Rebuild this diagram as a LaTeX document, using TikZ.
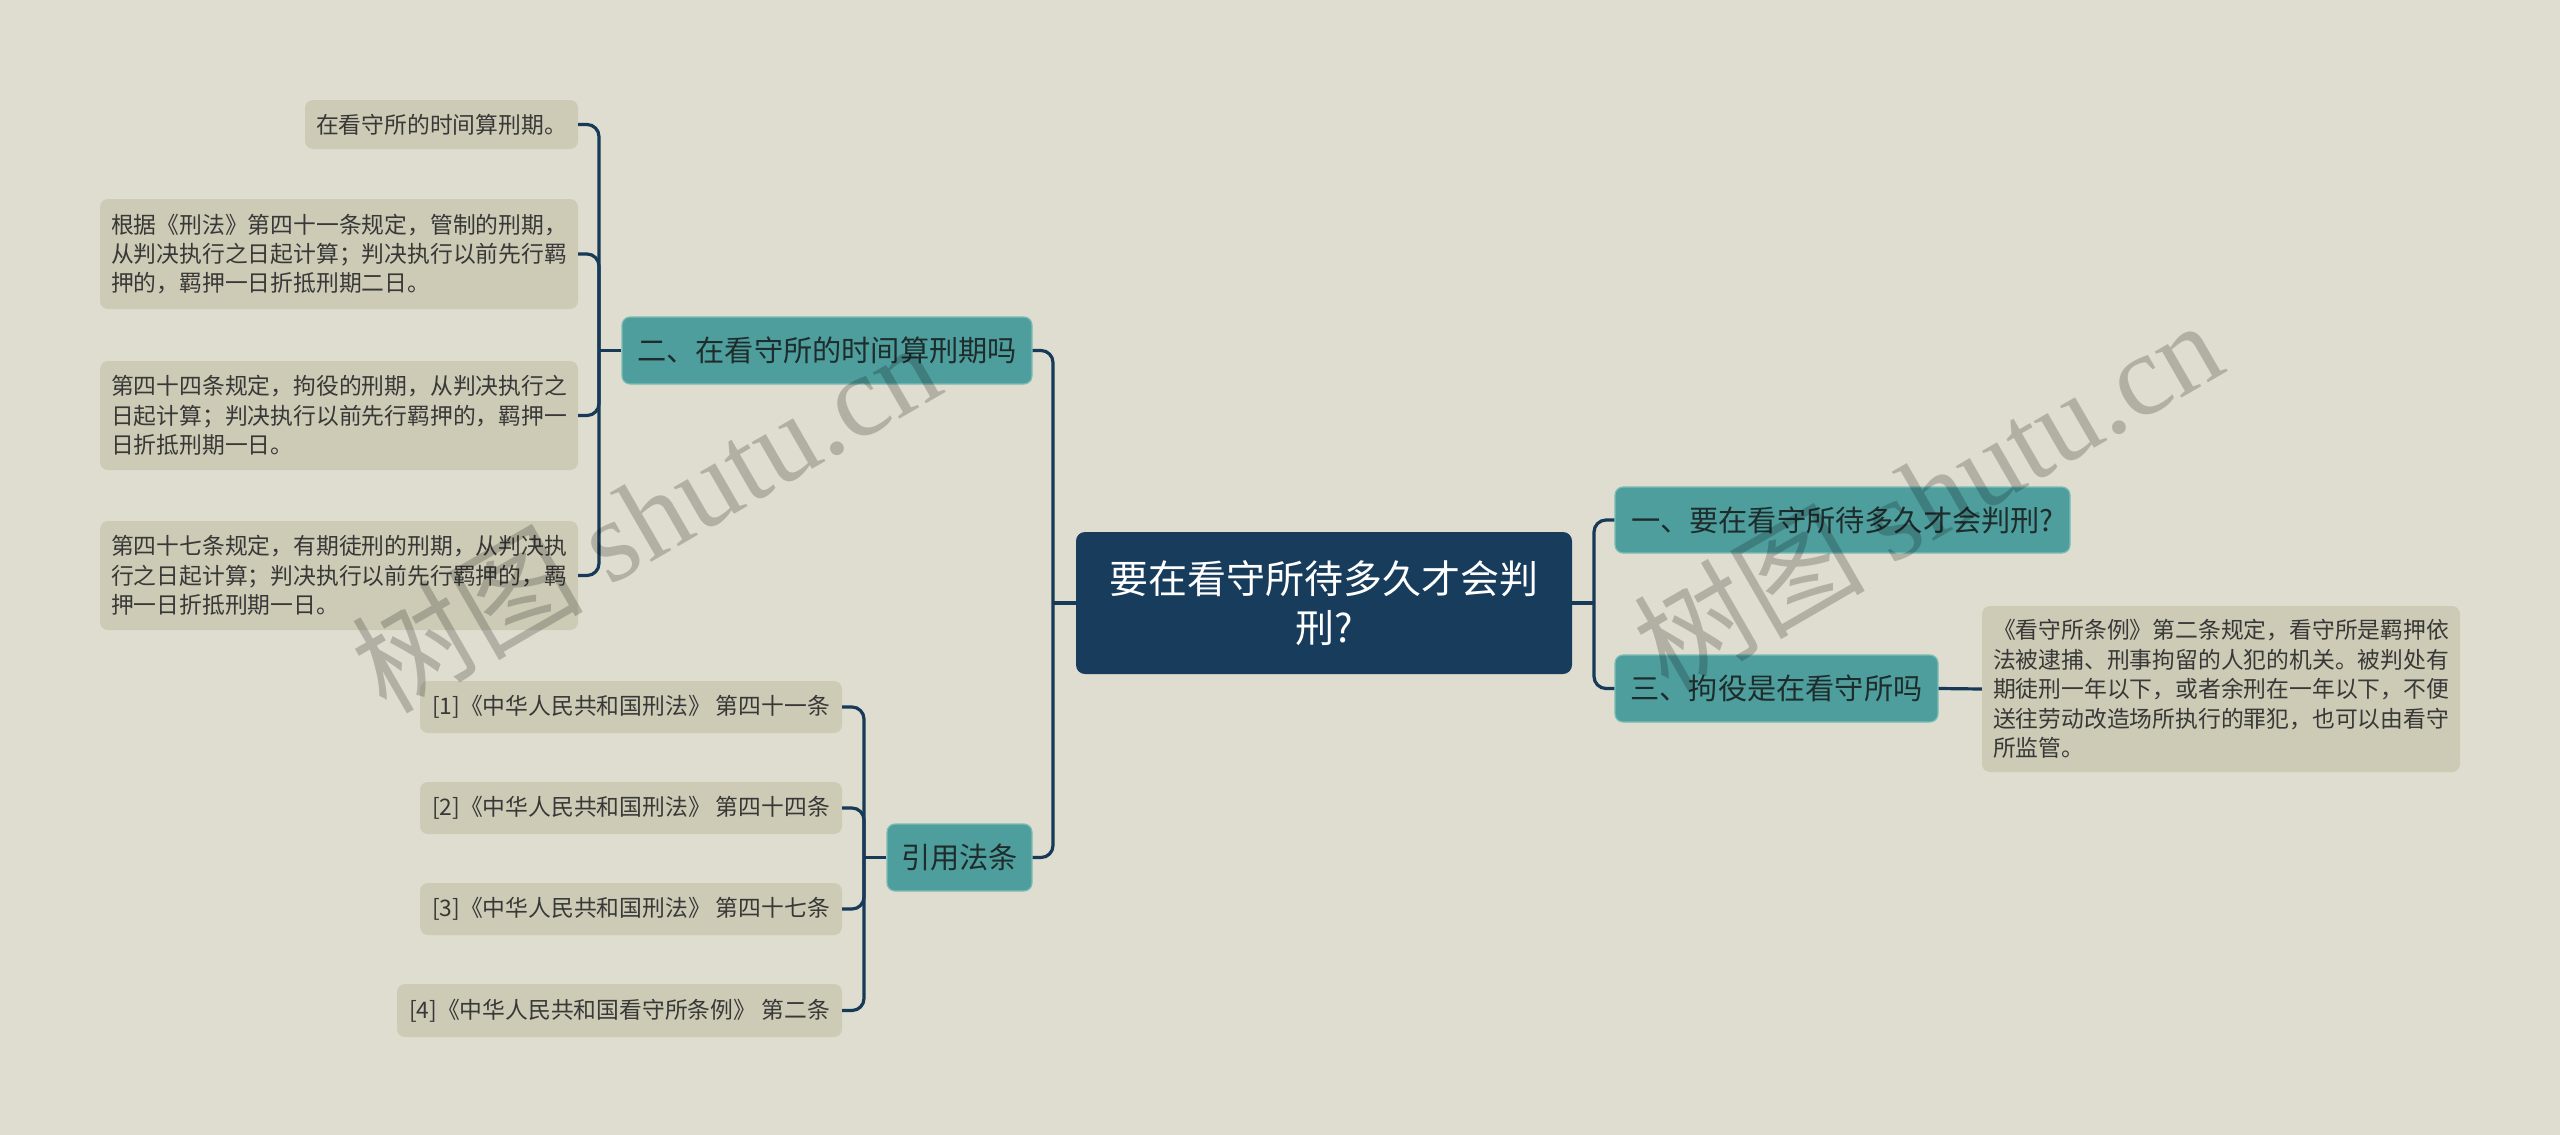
\documentclass[tikz,border=0pt]{standalone}
\usepackage{fontspec}
\setmainfont{Noto Sans CJK SC}
\newfontfamily\wmcjk{Noto Sans CJK SC}
\newfontfamily\wmlat{Liberation Serif}
\definecolor{bgc}{HTML}{DFDDCF}
\definecolor{leafc}{HTML}{CDCBB5}
\definecolor{tealc}{HTML}{4F9E9E}
\definecolor{tealb}{HTML}{7DBDB4}
\definecolor{rootc}{HTML}{183C5C}
\definecolor{linec}{HTML}{173A58}
\definecolor{leaftext}{HTML}{383838}
\definecolor{tealtext}{HTML}{1E2C2C}
\begin{document}
\begin{tikzpicture}[x=1pt,y=-1pt,
  leaf/.style={fill=leafc, rounded corners=8, inner sep=0pt, align=left,
    text=leaftext, font=\fontsize{22.8}{29.4}\selectfont},
  topic/.style={fill=tealc, draw=tealb, line width=1.2pt, rounded corners=8, inner sep=0pt,
    text=tealtext, font=\fontsize{29.2}{36}\selectfont},
  rootbox/.style={fill=rootc, rounded corners=9, inner sep=0pt, align=center,
    text=white, font=\fontsize{39}{49}\selectfont},
  conn/.style={draw=linec, line width=3.2pt, rounded corners=12},
  wm/.style={text=black, text opacity=0.2, rotate=30, inner sep=0pt}
]
\useasboundingbox (0,0) rectangle (2560,1135);
\fill[bgc] (0,0) rectangle (2560,1135);

% root
\node[rootbox, minimum width=496, minimum height=142] (root) at (1324,603)
  {要在看守所待多久才会判\\刑?};

% topics
\node[topic, minimum width=410, minimum height=67] (t2) at (827,350.5) {二、在看守所的时间算刑期吗};
\node[topic, minimum width=145, minimum height=67] (tref) at (959.5,857.5) {引用法条};
\node[topic, minimum width=455, minimum height=66] (t1) at (1842.5,520) {一、要在看守所待多久才会判刑?};
\node[topic, minimum width=323, minimum height=67] (t3) at (1776.5,688.5) {三、拘役是在看守所吗};

% leaves of t2
\node[leaf, minimum width=273, minimum height=49] (l1) at (441.5,124.5) {在看守所的时间算刑期。};
\node[leaf, minimum width=478, minimum height=110] (l2) at (339,254)
  {根据《刑法》第四十一条规定，管制的刑期，\\从判决执行之日起计算；判决执行以前先行羁\\押的，羁押一日折抵刑期二日。};
\node[leaf, minimum width=478, minimum height=109] (l3) at (339,415.5)
  {第四十四条规定，拘役的刑期，从判决执行之\\日起计算；判决执行以前先行羁押的，羁押一\\日折抵刑期一日。};
\node[leaf, minimum width=478, minimum height=109] (l4) at (339,575.5)
  {第四十七条规定，有期徒刑的刑期，从判决执\\行之日起计算；判决执行以前先行羁押的，羁\\押一日折抵刑期一日。};

% references
\node[leaf, minimum width=422, minimum height=52] (r1) at (631,707) {[1]《中华人民共和国刑法》 第四十一条};
\node[leaf, minimum width=422, minimum height=52] (r2) at (631,808) {[2]《中华人民共和国刑法》 第四十四条};
\node[leaf, minimum width=422, minimum height=52] (r3) at (631,909) {[3]《中华人民共和国刑法》 第四十七条};
\node[leaf, minimum width=445, minimum height=53] (r4) at (619.5,1010.5) {[4]《中华人民共和国看守所条例》 第二条};

% leaf of t3
\node[leaf, minimum width=478, minimum height=166] (l5) at (2221,689)
  {《看守所条例》第二条规定，看守所是羁押依\\法被逮捕、刑事拘留的人犯的机关。被判处有\\期徒刑一年以下，或者余刑在一年以下，不便\\送往劳动改造场所执行的罪犯，也可以由看守\\所监管。};

% junction coordinates
\coordinate (jroot) at (1053,603);
\coordinate (jright) at (1594,603);
\coordinate (jt2) at (599,350.5);
\coordinate (jref) at (864,857.5);

% connectors
\draw[conn] (root.west) -- (jroot);
\draw[conn] (jroot) |- (t2.east);
\draw[conn] (jroot) |- (tref.east);
\draw[conn] (root.east) -- (jright);
\draw[conn] (jright) |- (t1.west);
\draw[conn] (jright) |- (t3.west);
\draw[conn] (t3.east) -- (l5.west);

\draw[conn] (t2.west) -- (jt2);
\draw[conn] (jt2) |- (l1.east);
\draw[conn] (jt2) |- (l2.east);
\draw[conn] (jt2) |- (l3.east);
\draw[conn] (jt2) |- (l4.east);

\draw[conn] (tref.west) -- (jref);
\draw[conn] (jref) |- (r1.east);
\draw[conn] (jref) |- (r2.east);
\draw[conn] (jref) |- (r3.east);
\draw[conn] (jref) |- (r4.east);

% watermarks
\node[wm] (wm1) at (645,515) {\fontsize{116}{116}\selectfont{\wmcjk 树图} {\wmlat shutu.cn}};
\node[wm] (wm2) at (1927,494) {\fontsize{116}{116}\selectfont{\wmcjk 树图} {\wmlat shutu.cn}};
\end{tikzpicture}
\end{document}
